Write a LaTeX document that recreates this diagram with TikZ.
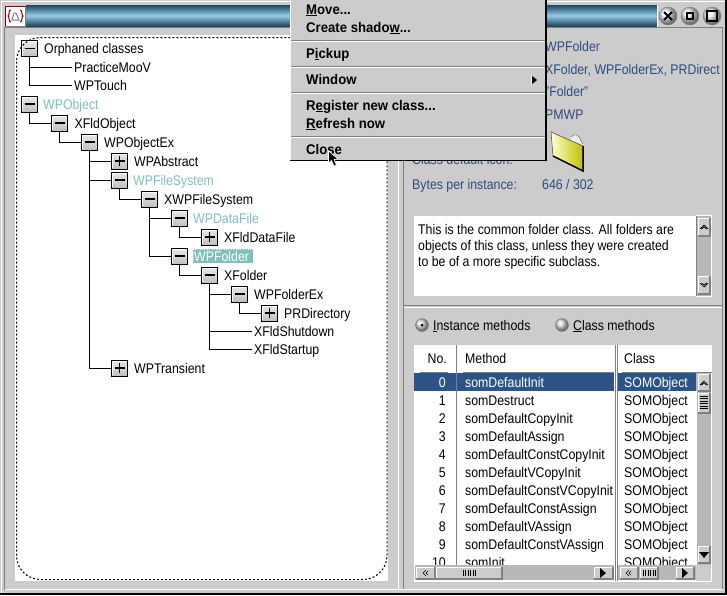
\documentclass[tikz,border=0pt]{standalone}
\usepackage{fontspec}
\usetikzlibrary{shadings}
\setmainfont{Liberation Sans}[FakeStretch=0.88]
\newfontfamily\menufont{Liberation Sans}[FakeStretch=0.94,BoldFont={Liberation Sans Bold}]
\newcommand\tf{\fontsize{14}{16}\selectfont}
\newcommand\mf{\menufont\bfseries\fontsize{14}{16}\selectfont}
\definecolor{bg}{HTML}{CCCCCC}
\definecolor{track}{HTML}{B8B8B8}
\definecolor{edge}{HTML}{808080}
\definecolor{teal}{HTML}{7FBFBF}
\definecolor{infoblue}{HTML}{2F4A80}
\definecolor{selblue}{HTML}{2C5488}
\definecolor{ttlA}{HTML}{1D465F}
\definecolor{ttlB}{HTML}{93CBEA}
\pgfdeclareverticalshading{ttlshade}{100bp}{color(0bp)=(ttlA); color(25bp)=(ttlA); color(50bp)=(ttlB); color(75bp)=(ttlA); color(100bp)=(ttlA)}
\tikzset{
  exbase/.style={rectangle,draw=black,line width=1pt,minimum size=16pt,inner sep=0pt,top color=gray!18,bottom color=gray!50},
  explus/.style={exbase,path picture={
    \draw[white,line width=1pt] ([shift={(1,-1)}]path picture bounding box.south west)--([shift={(1,1)}]path picture bounding box.north west)--([shift={(-1,1)}]path picture bounding box.north east);
    \draw[black,line width=1.2pt] ([xshift=-5]path picture bounding box.center)--([xshift=5]path picture bounding box.center);
    \draw[black,line width=1.2pt] ([yshift=-5]path picture bounding box.center)--([yshift=5]path picture bounding box.center);}},
  exminus/.style={exbase,path picture={
    \draw[white,line width=1pt] ([shift={(1,-1)}]path picture bounding box.south west)--([shift={(1,1)}]path picture bounding box.north west)--([shift={(-1,1)}]path picture bounding box.north east);
    \draw[black,line width=1.2pt] ([xshift=-5]path picture bounding box.center)--([xshift=5]path picture bounding box.center);}},
  lab/.style={anchor=west,font=\tf,inner ysep=0pt,inner xsep=2pt,text height=10pt,text depth=0pt},
  tline/.style={draw=black,line width=1pt},
  info/.style={anchor=base west,font=\tf,text=infoblue,inner sep=0pt},
  blk/.style={anchor=base west,font=\tf,text=black,inner sep=0pt},
  num/.style={anchor=base east,font=\tf,text=black,inner sep=0pt},
  mitem/.style={anchor=base west,font=\mf,text=black,inner sep=0pt},
  wbtn/.style={circle,minimum size=18pt,inner sep=0pt,draw=edge,ball color=gray!20},
  radio/.style={circle,minimum size=13pt,inner sep=0pt,draw=gray,ball color=gray!30},
}
\newcommand\sbtn[4]{%
  \fill[bg] (#1,#2) rectangle (#3,#4);
  \draw[white,line width=1pt] (#1,#4)--(#1,#2)--(#3,#2);
  \draw[edge,line width=1.5pt] (#1,#4)--(#3,#4)--(#3,#2);}
\newcommand\chevup[2]{\draw[black,line width=.7pt] (#1-4,#2)--(#1,#2-4)--(#1+4,#2) (#1-2.5,#2+0)--(#1,#2-2)--(#1+2.5,#2);}
\newcommand\chevdn[2]{\draw[black,line width=.7pt] (#1-4,#2)--(#1,#2+4)--(#1+4,#2) (#1-2.5,#2)--(#1,#2+2)--(#1+2.5,#2);}
\newcommand\chevlf[2]{\draw[black,line width=.6pt] (#1,#2-3)--(#1-3,#2)--(#1,#2+3) (#1+2,#2-2)--(#1,#2)--(#1+2,#2+2);}
\newcommand\trirt[2]{\fill[black] (#1-3,#2-5)--(#1+3,#2)--(#1-3,#2+5)--cycle;}
\newcommand\gripv[2]{\foreach \gi in {-6,-3.5,-1,1.5,4,6.5}{\draw[black,line width=.8pt] (#1+\gi,#2-3)--(#1+\gi,#2+3);}}
\newcommand\ul[1]{\underline{#1}}
\begin{document}
\begin{tikzpicture}[x=1pt,y=-1pt]
\useasboundingbox (0,0) rectangle (727,595);
% window
\fill[bg] (0,0) rectangle (727,595);
\draw[white,line width=1pt] (1,595)--(1,1)--(727,1);
\draw[black,line width=2pt] (0,594)--(727,594);
\draw[black,line width=1.5pt] (726,0)--(726,595);
% title bar
\path[shading=ttlshade] (26,5) rectangle (657,26);
\draw[white,line width=1pt] (657.5,5)--(657.5,26.5);
% system icon
\fill[white] (5,6) rectangle (25,26);
\draw[edge,line width=1pt] (5,26)--(25,26)--(25,6);
\draw[red!50!black,line width=1pt] (5.5,26)--(5.5,6.5)--(25,6.5);
\draw[red!50!black,line width=1pt] (11,10) .. controls (8,10) and (10,15) .. (8,16) .. controls (10,17) and (8,22) .. (11,22);
\draw[red!50!black,line width=1pt] (20,10) .. controls (23,10) and (21,15) .. (23,16) .. controls (21,17) and (23,22) .. (20,22);
\draw[gray,line width=1pt] (12,20)--(19,20)--(16,13)--(14,13)--cycle;
% window buttons
\node[wbtn] (closebtn) at (668,16) {};
\node[wbtn] (minbtn) at (690,16) {};
\node[wbtn] (maxbtn) at (712,16) {};
\draw[black,line width=1.8pt] (664,12)--(672,20) (672,12)--(664,20);
\draw[black,line width=1.5pt] (687,13) rectangle (693,19);
\draw[black,line width=1.5pt] (707,11) rectangle (717,21);
% bevels
\draw[edge,line width=1pt] (4.5,590)--(4.5,27.5)--(722.5,27.5)--(722.5,590);
\draw[white,line width=1pt] (5,589.5)--(723,589.5);
\draw[white,line width=1pt] (398.5,28)--(398.5,589);
\draw[edge,line width=1pt] (403.5,28)--(403.5,589);
\draw[edge,line width=1pt] (404,305.5)--(722,305.5);
\draw[white,line width=1pt] (404,307.5)--(722,307.5);
% tree pane
\fill[white] (15,35) rectangle (388,581);
% expander boxes
\node[exminus] (e1) at (29.5,48.5) {};
\node[exminus] (e2) at (29.5,104) {};
\node[exminus] (e3) at (59.5,123) {};
\node[exminus] (e4) at (89.5,142) {};
\node[explus]  (e5) at (119.5,161) {};
\node[exminus] (e6) at (119.5,180) {};
\node[exminus] (e7) at (149.5,199) {};
\node[exminus] (e8) at (179.5,218) {};
\node[explus]  (e9) at (209.5,237) {};
\node[exminus] (e10) at (179.5,256) {};
\node[exminus] (e11) at (209.5,275) {};
\node[exminus] (e12) at (239.5,294) {};
\node[explus]  (e13) at (269.5,313) {};
\node[explus]  (e14) at (119.5,368) {};
% labels
\node[lab] (l1) at (42,48.5) {Orphaned classes};
\node[lab] (lpm) at (72,67) {PracticeMooV};
\node[lab] (lwt) at (72,85.5) {WPTouch};
\node[lab,text=teal] (l2) at (41,104) {WPObject};
\node[lab] (l3) at (72.5,123) {XFldObject};
\node[lab] (l4) at (102,142) {WPObjectEx};
\node[lab] (l5) at (132,161) {WPAbstract};
\node[lab,text=teal] (l6) at (131,180) {WPFileSystem};
\node[lab] (l7) at (162,199) {XWPFileSystem};
\node[lab,text=teal] (l8) at (191,218) {WPDataFile};
\node[lab] (l9) at (222,237) {XFldDataFile};
\node[anchor=west,font=\tf,text=white,fill=teal,draw=white,dotted,inner xsep=1pt,inner ysep=0pt,text width=58pt,align=left,text height=12pt,text depth=2pt] (l10) at (193,256) {WPFolder};
\node[lab] (l11) at (222,275) {XFolder};
\node[lab] (l12) at (252,294) {WPFolderEx};
\node[lab] (l13) at (282,313) {PRDirectory};
\node[lab] (lsd) at (252,331.5) {XFldShutdown};
\node[lab] (lst) at (252,349.5) {XFldStartup};
\node[lab] (l14) at (132,368) {WPTransient};
% connectors
\draw[tline] (e1.south) |- (lpm.west);
\draw[tline] (e1.south) |- (lwt.west);
\draw[tline] (e2.south) |- (e3.west);
\draw[tline] (e3.south) |- (e4.west);
\draw[tline] (e4.south) |- (e5.west);
\draw[tline] (e4.south) |- (e6.west);
\draw[tline] (e4.south) |- (e14.west);
\draw[tline] (e6.south) |- (e7.west);
\draw[tline] (e7.south) |- (e8.west);
\draw[tline] (e7.south) |- (e10.west);
\draw[tline] (e8.south) |- (e9.west);
\draw[tline] (e10.south) |- (e11.west);
\draw[tline] (e11.south) |- (e12.west);
\draw[tline] (e11.south) |- (lsd.west);
\draw[tline] (e11.south) |- (lst.west);
\draw[tline] (e12.south) |- (e13.west);
% dashed emphasis
\draw[black,line width=1pt,dash pattern=on 2pt off 2pt,rounded corners=24pt] (16.5,37.5) rectangle (387,579.5);
% info texts
\node[info] (i1) at (545,51) {WPFolder};
\node[info] (i2) at (545,74) {XFolder, WPFolderEx, PRDirect};
\node[info] (i3) at (545,96) {"Folder"};
\node[info] (i4) at (545,119) {PMWP};
\node[info] (i5) at (412,164.5) {Class default icon:};
\node[info] (i6) at (412,189) {Bytes per instance:};
\node[info] (i7) at (542,189) {646 / 302};
% folder icon
\fill[gray!15] (571,137) .. controls (574,133) and (579,134) .. (581,141) -- (583,143) -- (583,150) -- (570,142) -- cycle;
\draw[gray,line width=.6pt] (571,137) .. controls (574,133) and (579,134) .. (581,141) -- (583,144);
\shade[left color=yellow!18!white,right color=yellow!75!black,draw=black!70,line width=.6pt] (551,132) -- (583,146) -- (583,171) -- (553,156) -- cycle;
\draw[black,line width=1.5pt] (553,156)--(583,171)--(583,146);
% description
\fill[white] (414,216) rectangle (696,296);
\node[blk] (d1) at (418,234) {This is the common folder class. All folders are};
\node[blk] (d2) at (418,250) {objects of this class, unless they were created};
\node[blk] (d3) at (418,266) {to be of a more specific subclass.};
\fill[track] (696,216) rectangle (711,296);
\draw[edge,line width=1pt] (696.5,216)--(696.5,296);
\draw[white,line width=1pt] (696,215.5)--(712,215.5) (711.5,216)--(711.5,296)--(696,296);
\sbtn{698}{218}{710}{236}
\chevup{704}{229}
\sbtn{698}{276}{710}{294}
\chevdn{704}{283}
% radios
\node[radio] (r1) at (422,325) {};
\fill[black] (422,325) circle (1.5);
\node[radio] (r2) at (562,325) {};
\node[blk] (rl1) at (433,330) {\ul{I}nstance methods};
\node[blk] (rl2) at (573,330) {\ul{C}lass methods};
% table
\fill[white] (414,345) rectangle (712,581);
\fill[selblue] (414,373) rectangle (614,391);
\fill[selblue] (618,373) rectangle (696,391);
\node[num] (hn) at (447,363) {No.};
\node[blk] (hm) at (465,363) {Method};
\node[blk] (hc) at (624,363) {Class};
\foreach \n/\m [count=\i from 0] in {0/somDefaultInit,1/somDestruct,2/somDefaultCopyInit,3/somDefaultAssign,4/somDefaultConstCopyInit,5/somDefaultVCopyInit,6/somDefaultConstVCopyInit,7/somDefaultConstAssign,8/somDefaultVAssign,9/somDefaultConstVAssign,10/somInit}{
  \pgfmathsetmacro\yy{387+18*\i}
  \ifnum\i=0
    \node[num,text=white] (no\i) at (446,\yy) {\n};
    \node[blk,text=white] (me\i) at (465,\yy) {\m};
    \node[blk,text=white] (cl\i) at (624,\yy) {SOMObject};
  \else
    \node[num] (no\i) at (446,\yy) {\n};
    \node[blk] (me\i) at (465,\yy) {\m};
    \node[blk] (cl\i) at (624,\yy) {SOMObject};
  \fi
}
\draw[edge,line width=1pt] (456.5,345)--(456.5,565) (615,345)--(615,581) (617.5,345)--(617.5,581);
\draw[edge,line width=1pt] (420,372.5)--(448,372.5) (463,372.5)--(614,372.5) (622,372.5)--(712,372.5);
% vertical table scrollbar
\fill[track] (696,373) rectangle (711,565);
\draw[white,line width=1pt] (711.5,373)--(711.5,581)--(414,581);
\draw[white,line width=1pt] (696.5,391)--(696.5,565);
\sbtn{698}{374}{710}{391}
\chevup{704}{385}
\sbtn{698}{393}{710}{413}
\foreach \gy in {396,398.5,401,403.5,406,408.5}{\draw[black,line width=1pt] (700,\gy)--(708,\gy);}
\sbtn{698}{546}{710}{563}
\fill[black] (699,552)--(709,552)--(704,558)--cycle;
% horizontal scrollbars
\fill[track] (415,565) rectangle (614,580);
\fill[track] (618,565) rectangle (696,580);
\fill[bg] (696,565) rectangle (711,581);
\sbtn{416}{567}{435}{579}
\chevlf{426}{573}
\sbtn{436}{567}{502}{579}
\gripv{469}{573}
\sbtn{594}{567}{613}{579}
\trirt{603}{573}
\sbtn{620}{567}{638}{579}
\chevlf{629}{573}
\sbtn{640}{567}{658}{579}
\gripv{649}{573}
\sbtn{676}{567}{694}{579}
\trirt{685}{573}
% menu
\fill[bg] (290,-2) rectangle (546,161);
\draw[black,line width=1.5pt] (290,160.7)--(546,160.7)--(546,-2);
\foreach \sy in {41,67,93,137}{
  \draw[edge,line width=1pt] (291,\sy-.5)--(545,\sy-.5);
  \draw[white,line width=1pt] (291,\sy+.5)--(545,\sy+.5);
}
\draw[white,line width=1pt] (290.5,0)--(290.5,160);
\node[mitem] (m1) at (306,14) {\ul{M}ove...};
\node[mitem] (m2) at (306,32) {Create shado\ul{w}...};
\node[mitem] (m3) at (306,58) {P\ul{i}ckup};
\node[mitem] (m4) at (306,84) {Window};
\node[mitem] (m5) at (306,110) {R\ul{e}gister new class...};
\node[mitem] (m6) at (306,128) {\ul{R}efresh now};
\node[mitem] (m7) at (306,154) {Close};
\fill[black] (531,75)--(537,80)--(531,85)--cycle;
\draw[white,line width=.6pt] (531,75)--(531,85);
% cursor
\draw[white,fill=black,line width=.6pt,line join=round] (328.5,151)--(328.5,163)--(331.5,160.5)--(334,166)--(336.5,165)--(334,159.5)--(338,159)--cycle;
\end{tikzpicture}
\end{document}
